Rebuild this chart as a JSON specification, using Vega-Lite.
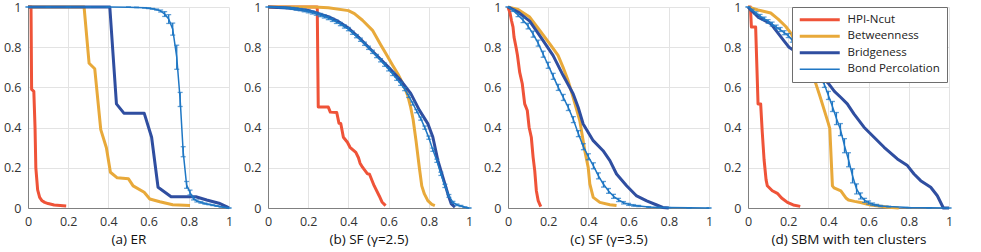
{
  "$schema": "https://vega.github.io/schema/vega-lite/v6.json",
  "background": "white",
  "padding": {"left": 3, "top": 1, "right": 5, "bottom": 3},
  "spacing": 10,
  "config": {
    "font": "Open Sans",
    "view": {"stroke": null},
    "axis": {
      "grid": true, "gridColor": "#e3e3e3", "gridWidth": 1,
      "domainColor": "#808080", "domainWidth": 1,
      "ticks": false, "labelFontSize": 12.5, "labelColor": "#333333",
      "labelFlush": false, "labelOverlap": false,
      "titleFontSize": 13.5, "titleFontWeight": "normal", "titleColor": "#111111", "titlePadding": 5
    },
    "axisX": {"labelPadding": 7},
    "axisY": {"labelPadding": 7},
    "line": {"strokeJoin": "round"}
  },
  "datasets": {
    "a": [
      {"s":"HPI-Ncut","x":0,"y":1},{"s":"HPI-Ncut","x":0.015,"y":1},{"s":"HPI-Ncut","x":0.018,"y":0.59},{"s":"HPI-Ncut","x":0.029,"y":0.58},{"s":"HPI-Ncut","x":0.035,"y":0.4},{"s":"HPI-Ncut","x":0.039,"y":0.2},{"s":"HPI-Ncut","x":0.048,"y":0.09},{"s":"HPI-Ncut","x":0.058,"y":0.053},{"s":"HPI-Ncut","x":0.07,"y":0.036},{"s":"HPI-Ncut","x":0.083,"y":0.028},{"s":"HPI-Ncut","x":0.1,"y":0.022},{"s":"HPI-Ncut","x":0.13,"y":0.015},{"s":"HPI-Ncut","x":0.19,"y":0.01},
      {"s":"Betweenness","x":0,"y":1},{"s":"Betweenness","x":0.279,"y":1},{"s":"Betweenness","x":0.304,"y":0.72},{"s":"Betweenness","x":0.332,"y":0.693},{"s":"Betweenness","x":0.362,"y":0.39},{"s":"Betweenness","x":0.39,"y":0.3},{"s":"Betweenness","x":0.41,"y":0.178},{"s":"Betweenness","x":0.444,"y":0.15},{"s":"Betweenness","x":0.5,"y":0.145},{"s":"Betweenness","x":0.523,"y":0.11},{"s":"Betweenness","x":0.578,"y":0.078},{"s":"Betweenness","x":0.606,"y":0.045},{"s":"Betweenness","x":0.656,"y":0.031},{"s":"Betweenness","x":0.72,"y":0.016},{"s":"Betweenness","x":0.806,"y":0.012},
      {"s":"Bridgeness","x":0,"y":1},{"s":"Bridgeness","x":0.407,"y":1},{"s":"Bridgeness","x":0.44,"y":0.518},{"s":"Bridgeness","x":0.477,"y":0.472},{"s":"Bridgeness","x":0.578,"y":0.472},{"s":"Bridgeness","x":0.615,"y":0.352},{"s":"Bridgeness","x":0.647,"y":0.103},{"s":"Bridgeness","x":0.712,"y":0.056},{"s":"Bridgeness","x":0.835,"y":0.056},{"s":"Bridgeness","x":0.889,"y":0.04},{"s":"Bridgeness","x":0.95,"y":0.024},{"s":"Bridgeness","x":0.99,"y":0.006},{"s":"Bridgeness","x":1,"y":0},
      {"s":"Bond Percolation","x":0,"y":1,"e":0},{"s":"Bond Percolation","x":0.1,"y":1,"e":0},{"s":"Bond Percolation","x":0.2,"y":1,"e":0},{"s":"Bond Percolation","x":0.3,"y":1,"e":0},{"s":"Bond Percolation","x":0.4,"y":1,"e":0},{"s":"Bond Percolation","x":0.5,"y":0.999,"e":0},{"s":"Bond Percolation","x":0.54,"y":0.998,"e":0.001},{"s":"Bond Percolation","x":0.58,"y":0.996,"e":0.001},{"s":"Bond Percolation","x":0.6,"y":0.994,"e":0.002},{"s":"Bond Percolation","x":0.62,"y":0.991,"e":0.002},{"s":"Bond Percolation","x":0.64,"y":0.987,"e":0.003},{"s":"Bond Percolation","x":0.66,"y":0.98,"e":0.005},{"s":"Bond Percolation","x":0.68,"y":0.965,"e":0.012},{"s":"Bond Percolation","x":0.7,"y":0.94,"e":0.022},{"s":"Bond Percolation","x":0.72,"y":0.89,"e":0.03},{"s":"Bond Percolation","x":0.74,"y":0.75,"e":0.06},{"s":"Bond Percolation","x":0.757,"y":0.54,"e":0.035},{"s":"Bond Percolation","x":0.772,"y":0.28,"e":0.025},{"s":"Bond Percolation","x":0.789,"y":0.115,"e":0.017},{"s":"Bond Percolation","x":0.806,"y":0.077,"e":0.012},{"s":"Bond Percolation","x":0.823,"y":0.048,"e":0.008},{"s":"Bond Percolation","x":0.84,"y":0.035,"e":0.005},{"s":"Bond Percolation","x":0.86,"y":0.028,"e":0.004},{"s":"Bond Percolation","x":0.88,"y":0.022,"e":0.003},{"s":"Bond Percolation","x":0.9,"y":0.018,"e":0.002},{"s":"Bond Percolation","x":0.92,"y":0.014,"e":0.002},{"s":"Bond Percolation","x":0.94,"y":0.01,"e":0.001},{"s":"Bond Percolation","x":0.96,"y":0.006,"e":0.001},{"s":"Bond Percolation","x":0.98,"y":0.003,"e":0},{"s":"Bond Percolation","x":1,"y":0,"e":0}
    ],
    "b": [
      {"s":"HPI-Ncut","x":0,"y":1},{"s":"HPI-Ncut","x":0.245,"y":1},{"s":"HPI-Ncut","x":0.25,"y":0.502},{"s":"HPI-Ncut","x":0.3,"y":0.502},{"s":"HPI-Ncut","x":0.31,"y":0.477},{"s":"HPI-Ncut","x":0.342,"y":0.475},{"s":"HPI-Ncut","x":0.353,"y":0.422},{"s":"HPI-Ncut","x":0.362,"y":0.42},{"s":"HPI-Ncut","x":0.375,"y":0.352},{"s":"HPI-Ncut","x":0.395,"y":0.327},{"s":"HPI-Ncut","x":0.408,"y":0.302},{"s":"HPI-Ncut","x":0.437,"y":0.277},{"s":"HPI-Ncut","x":0.45,"y":0.25},{"s":"HPI-Ncut","x":0.458,"y":0.223},{"s":"HPI-Ncut","x":0.47,"y":0.203},{"s":"HPI-Ncut","x":0.495,"y":0.17},{"s":"HPI-Ncut","x":0.505,"y":0.168},{"s":"HPI-Ncut","x":0.528,"y":0.111},{"s":"HPI-Ncut","x":0.553,"y":0.061},{"s":"HPI-Ncut","x":0.567,"y":0.03},{"s":"HPI-Ncut","x":0.585,"y":0.012},
      {"s":"Betweenness","x":0,"y":1},{"s":"Betweenness","x":0.228,"y":1},{"s":"Betweenness","x":0.3,"y":0.996},{"s":"Betweenness","x":0.4,"y":0.982},{"s":"Betweenness","x":0.43,"y":0.967},{"s":"Betweenness","x":0.47,"y":0.934},{"s":"Betweenness","x":0.52,"y":0.884},{"s":"Betweenness","x":0.562,"y":0.81},{"s":"Betweenness","x":0.587,"y":0.767},{"s":"Betweenness","x":0.62,"y":0.71},{"s":"Betweenness","x":0.65,"y":0.66},{"s":"Betweenness","x":0.675,"y":0.61},{"s":"Betweenness","x":0.695,"y":0.56},{"s":"Betweenness","x":0.71,"y":0.5},{"s":"Betweenness","x":0.722,"y":0.44},{"s":"Betweenness","x":0.737,"y":0.33},{"s":"Betweenness","x":0.753,"y":0.2},{"s":"Betweenness","x":0.765,"y":0.11},{"s":"Betweenness","x":0.778,"y":0.07},{"s":"Betweenness","x":0.795,"y":0.037},{"s":"Betweenness","x":0.815,"y":0.018},{"s":"Betweenness","x":0.83,"y":0.012},
      {"s":"Bridgeness","x":0,"y":1},{"s":"Bridgeness","x":0.1,"y":0.995},{"s":"Bridgeness","x":0.2,"y":0.983},{"s":"Bridgeness","x":0.3,"y":0.952},{"s":"Bridgeness","x":0.35,"y":0.928},{"s":"Bridgeness","x":0.4,"y":0.895},{"s":"Bridgeness","x":0.45,"y":0.85},{"s":"Bridgeness","x":0.5,"y":0.8},{"s":"Bridgeness","x":0.55,"y":0.75},{"s":"Bridgeness","x":0.6,"y":0.7},{"s":"Bridgeness","x":0.66,"y":0.635},{"s":"Bridgeness","x":0.71,"y":0.57},{"s":"Bridgeness","x":0.753,"y":0.487},{"s":"Bridgeness","x":0.795,"y":0.42},{"s":"Bridgeness","x":0.82,"y":0.353},{"s":"Bridgeness","x":0.845,"y":0.237},{"s":"Bridgeness","x":0.87,"y":0.153},{"s":"Bridgeness","x":0.895,"y":0.07},{"s":"Bridgeness","x":0.912,"y":0.02},{"s":"Bridgeness","x":0.93,"y":0.004},
      {"s":"Bond Percolation","x":0,"y":1,"e":0},{"s":"Bond Percolation","x":0.02,"y":1,"e":0},{"s":"Bond Percolation","x":0.04,"y":0.999,"e":0.001},{"s":"Bond Percolation","x":0.06,"y":0.998,"e":0.002},{"s":"Bond Percolation","x":0.08,"y":0.997,"e":0.003},{"s":"Bond Percolation","x":0.1,"y":0.995,"e":0.004},{"s":"Bond Percolation","x":0.12,"y":0.993,"e":0.005},{"s":"Bond Percolation","x":0.14,"y":0.99,"e":0.006},{"s":"Bond Percolation","x":0.16,"y":0.987,"e":0.006},{"s":"Bond Percolation","x":0.18,"y":0.983,"e":0.007},{"s":"Bond Percolation","x":0.2,"y":0.978,"e":0.007},{"s":"Bond Percolation","x":0.22,"y":0.973,"e":0.008},{"s":"Bond Percolation","x":0.24,"y":0.967,"e":0.008},{"s":"Bond Percolation","x":0.26,"y":0.96,"e":0.008},{"s":"Bond Percolation","x":0.28,"y":0.953,"e":0.008},{"s":"Bond Percolation","x":0.3,"y":0.945,"e":0.008},{"s":"Bond Percolation","x":0.32,"y":0.936,"e":0.008},{"s":"Bond Percolation","x":0.34,"y":0.926,"e":0.008},{"s":"Bond Percolation","x":0.36,"y":0.915,"e":0.008},{"s":"Bond Percolation","x":0.38,"y":0.903,"e":0.008},{"s":"Bond Percolation","x":0.4,"y":0.89,"e":0.008},{"s":"Bond Percolation","x":0.42,"y":0.872,"e":0.008},{"s":"Bond Percolation","x":0.44,"y":0.855,"e":0.008},{"s":"Bond Percolation","x":0.46,"y":0.837,"e":0.008},{"s":"Bond Percolation","x":0.48,"y":0.817,"e":0.008},{"s":"Bond Percolation","x":0.5,"y":0.797,"e":0.008},{"s":"Bond Percolation","x":0.52,"y":0.777,"e":0.008},{"s":"Bond Percolation","x":0.54,"y":0.756,"e":0.008},{"s":"Bond Percolation","x":0.56,"y":0.735,"e":0.008},{"s":"Bond Percolation","x":0.58,"y":0.713,"e":0.008},{"s":"Bond Percolation","x":0.6,"y":0.69,"e":0.008},{"s":"Bond Percolation","x":0.62,"y":0.667,"e":0.008},{"s":"Bond Percolation","x":0.64,"y":0.643,"e":0.008},{"s":"Bond Percolation","x":0.66,"y":0.618,"e":0.008},{"s":"Bond Percolation","x":0.68,"y":0.592,"e":0.008},{"s":"Bond Percolation","x":0.7,"y":0.558,"e":0.008},{"s":"Bond Percolation","x":0.72,"y":0.52,"e":0.008},{"s":"Bond Percolation","x":0.74,"y":0.482,"e":0.008},{"s":"Bond Percolation","x":0.76,"y":0.445,"e":0.008},{"s":"Bond Percolation","x":0.78,"y":0.4,"e":0.008},{"s":"Bond Percolation","x":0.8,"y":0.35,"e":0.008},{"s":"Bond Percolation","x":0.82,"y":0.29,"e":0.008},{"s":"Bond Percolation","x":0.84,"y":0.235,"e":0.008},{"s":"Bond Percolation","x":0.86,"y":0.17,"e":0.008},{"s":"Bond Percolation","x":0.88,"y":0.11,"e":0.008},{"s":"Bond Percolation","x":0.9,"y":0.06,"e":0.007},{"s":"Bond Percolation","x":0.92,"y":0.028,"e":0.005},{"s":"Bond Percolation","x":0.94,"y":0.016,"e":0.004},{"s":"Bond Percolation","x":0.96,"y":0.01,"e":0.003},{"s":"Bond Percolation","x":0.98,"y":0.004,"e":0.002},{"s":"Bond Percolation","x":1,"y":0,"e":0}
    ],
    "c": [
      {"s":"HPI-Ncut","x":0,"y":1},{"s":"HPI-Ncut","x":0.01,"y":0.97},{"s":"HPI-Ncut","x":0.017,"y":0.934},{"s":"HPI-Ncut","x":0.025,"y":0.9},{"s":"HPI-Ncut","x":0.03,"y":0.85},{"s":"HPI-Ncut","x":0.04,"y":0.8},{"s":"HPI-Ncut","x":0.047,"y":0.76},{"s":"HPI-Ncut","x":0.058,"y":0.676},{"s":"HPI-Ncut","x":0.071,"y":0.618},{"s":"HPI-Ncut","x":0.083,"y":0.518},{"s":"HPI-Ncut","x":0.096,"y":0.485},{"s":"HPI-Ncut","x":0.105,"y":0.402},{"s":"HPI-Ncut","x":0.116,"y":0.352},{"s":"HPI-Ncut","x":0.125,"y":0.252},{"s":"HPI-Ncut","x":0.133,"y":0.186},{"s":"HPI-Ncut","x":0.141,"y":0.086},{"s":"HPI-Ncut","x":0.15,"y":0.037},{"s":"HPI-Ncut","x":0.163,"y":0.007},
      {"s":"Betweenness","x":0,"y":1},{"s":"Betweenness","x":0.05,"y":0.988},{"s":"Betweenness","x":0.108,"y":0.95},{"s":"Betweenness","x":0.158,"y":0.883},{"s":"Betweenness","x":0.208,"y":0.817},{"s":"Betweenness","x":0.249,"y":0.759},{"s":"Betweenness","x":0.274,"y":0.7},{"s":"Betweenness","x":0.299,"y":0.634},{"s":"Betweenness","x":0.324,"y":0.551},{"s":"Betweenness","x":0.357,"y":0.435},{"s":"Betweenness","x":0.382,"y":0.285},{"s":"Betweenness","x":0.399,"y":0.202},{"s":"Betweenness","x":0.407,"y":0.12},{"s":"Betweenness","x":0.424,"y":0.053},{"s":"Betweenness","x":0.457,"y":0.028},{"s":"Betweenness","x":0.507,"y":0.016},{"s":"Betweenness","x":0.54,"y":0.012},
      {"s":"Bridgeness","x":0,"y":1},{"s":"Bridgeness","x":0.05,"y":0.975},{"s":"Bridgeness","x":0.108,"y":0.93},{"s":"Bridgeness","x":0.174,"y":0.834},{"s":"Bridgeness","x":0.224,"y":0.759},{"s":"Bridgeness","x":0.274,"y":0.66},{"s":"Bridgeness","x":0.324,"y":0.568},{"s":"Bridgeness","x":0.349,"y":0.501},{"s":"Bridgeness","x":0.374,"y":0.418},{"s":"Bridgeness","x":0.424,"y":0.335},{"s":"Bridgeness","x":0.473,"y":0.285},{"s":"Bridgeness","x":0.507,"y":0.236},{"s":"Bridgeness","x":0.54,"y":0.169},{"s":"Bridgeness","x":0.59,"y":0.111},{"s":"Bridgeness","x":0.64,"y":0.06},{"s":"Bridgeness","x":0.69,"y":0.035},{"s":"Bridgeness","x":0.74,"y":0.015},{"s":"Bridgeness","x":0.77,"y":0.003},{"s":"Bridgeness","x":0.8,"y":0},
      {"s":"Bond Percolation","x":0,"y":1,"e":0},{"s":"Bond Percolation","x":0.025,"y":0.983,"e":0.005},{"s":"Bond Percolation","x":0.05,"y":0.96,"e":0.008},{"s":"Bond Percolation","x":0.075,"y":0.934,"e":0.012},{"s":"Bond Percolation","x":0.1,"y":0.905,"e":0.014},{"s":"Bond Percolation","x":0.125,"y":0.865,"e":0.015},{"s":"Bond Percolation","x":0.15,"y":0.82,"e":0.015},{"s":"Bond Percolation","x":0.175,"y":0.765,"e":0.015},{"s":"Bond Percolation","x":0.2,"y":0.71,"e":0.015},{"s":"Bond Percolation","x":0.225,"y":0.655,"e":0.015},{"s":"Bond Percolation","x":0.25,"y":0.6,"e":0.015},{"s":"Bond Percolation","x":0.275,"y":0.55,"e":0.015},{"s":"Bond Percolation","x":0.3,"y":0.5,"e":0.015},{"s":"Bond Percolation","x":0.325,"y":0.44,"e":0.015},{"s":"Bond Percolation","x":0.35,"y":0.37,"e":0.015},{"s":"Bond Percolation","x":0.375,"y":0.305,"e":0.015},{"s":"Bond Percolation","x":0.4,"y":0.255,"e":0.015},{"s":"Bond Percolation","x":0.425,"y":0.21,"e":0.015},{"s":"Bond Percolation","x":0.45,"y":0.16,"e":0.015},{"s":"Bond Percolation","x":0.475,"y":0.118,"e":0.014},{"s":"Bond Percolation","x":0.5,"y":0.085,"e":0.012},{"s":"Bond Percolation","x":0.525,"y":0.058,"e":0.01},{"s":"Bond Percolation","x":0.55,"y":0.04,"e":0.008},{"s":"Bond Percolation","x":0.575,"y":0.026,"e":0.006},{"s":"Bond Percolation","x":0.6,"y":0.018,"e":0.005},{"s":"Bond Percolation","x":0.625,"y":0.013,"e":0.004},{"s":"Bond Percolation","x":0.65,"y":0.01,"e":0.003},{"s":"Bond Percolation","x":0.7,"y":0.005,"e":0.002},{"s":"Bond Percolation","x":0.75,"y":0.003,"e":0.001},{"s":"Bond Percolation","x":0.8,"y":0.002,"e":0},{"s":"Bond Percolation","x":0.9,"y":0.001,"e":0},{"s":"Bond Percolation","x":1,"y":0,"e":0}
    ],
    "d": [
      {"s":"HPI-Ncut","x":0,"y":1},{"s":"HPI-Ncut","x":0.012,"y":1},{"s":"HPI-Ncut","x":0.017,"y":0.9},{"s":"HPI-Ncut","x":0.038,"y":0.9},{"s":"HPI-Ncut","x":0.05,"y":0.518},{"s":"HPI-Ncut","x":0.063,"y":0.518},{"s":"HPI-Ncut","x":0.071,"y":0.377},{"s":"HPI-Ncut","x":0.08,"y":0.24},{"s":"HPI-Ncut","x":0.09,"y":0.14},{"s":"HPI-Ncut","x":0.096,"y":0.111},{"s":"HPI-Ncut","x":0.121,"y":0.086},{"s":"HPI-Ncut","x":0.146,"y":0.073},{"s":"HPI-Ncut","x":0.167,"y":0.05},{"s":"HPI-Ncut","x":0.196,"y":0.028},{"s":"HPI-Ncut","x":0.225,"y":0.015},{"s":"HPI-Ncut","x":0.26,"y":0.008},
      {"s":"Betweenness","x":0,"y":1},{"s":"Betweenness","x":0.05,"y":0.985},{"s":"Betweenness","x":0.113,"y":0.97},{"s":"Betweenness","x":0.15,"y":0.94},{"s":"Betweenness","x":0.188,"y":0.903},{"s":"Betweenness","x":0.213,"y":0.87},{"s":"Betweenness","x":0.25,"y":0.8},{"s":"Betweenness","x":0.3,"y":0.7},{"s":"Betweenness","x":0.337,"y":0.62},{"s":"Betweenness","x":0.36,"y":0.55},{"s":"Betweenness","x":0.379,"y":0.488},{"s":"Betweenness","x":0.4,"y":0.42},{"s":"Betweenness","x":0.407,"y":0.395},{"s":"Betweenness","x":0.42,"y":0.11},{"s":"Betweenness","x":0.428,"y":0.1},{"s":"Betweenness","x":0.462,"y":0.085},{"s":"Betweenness","x":0.487,"y":0.05},{"s":"Betweenness","x":0.5,"y":0.04},{"s":"Betweenness","x":0.53,"y":0.033},{"s":"Betweenness","x":0.56,"y":0.027},{"s":"Betweenness","x":0.61,"y":0.015},{"s":"Betweenness","x":0.7,"y":0.004},{"s":"Betweenness","x":0.75,"y":0},
      {"s":"Bridgeness","x":0,"y":1},{"s":"Bridgeness","x":0.05,"y":0.95},{"s":"Bridgeness","x":0.113,"y":0.917},{"s":"Bridgeness","x":0.18,"y":0.83},{"s":"Bridgeness","x":0.204,"y":0.8},{"s":"Bridgeness","x":0.25,"y":0.77},{"s":"Bridgeness","x":0.3,"y":0.72},{"s":"Bridgeness","x":0.35,"y":0.67},{"s":"Bridgeness","x":0.4,"y":0.62},{"s":"Bridgeness","x":0.43,"y":0.58},{"s":"Bridgeness","x":0.461,"y":0.551},{"s":"Bridgeness","x":0.494,"y":0.518},{"s":"Bridgeness","x":0.527,"y":0.468},{"s":"Bridgeness","x":0.577,"y":0.402},{"s":"Bridgeness","x":0.627,"y":0.352},{"s":"Bridgeness","x":0.677,"y":0.302},{"s":"Bridgeness","x":0.743,"y":0.244},{"s":"Bridgeness","x":0.793,"y":0.211},{"s":"Bridgeness","x":0.826,"y":0.169},{"s":"Bridgeness","x":0.859,"y":0.136},{"s":"Bridgeness","x":0.909,"y":0.103},{"s":"Bridgeness","x":0.942,"y":0.061},{"s":"Bridgeness","x":0.972,"y":0},{"s":"Bridgeness","x":1,"y":0},
      {"s":"Bond Percolation","x":0,"y":1,"e":0},{"s":"Bond Percolation","x":0.02,"y":0.985,"e":0.004},{"s":"Bond Percolation","x":0.04,"y":0.97,"e":0.006},{"s":"Bond Percolation","x":0.06,"y":0.955,"e":0.008},{"s":"Bond Percolation","x":0.08,"y":0.942,"e":0.008},{"s":"Bond Percolation","x":0.1,"y":0.928,"e":0.009},{"s":"Bond Percolation","x":0.12,"y":0.915,"e":0.01},{"s":"Bond Percolation","x":0.14,"y":0.9,"e":0.01},{"s":"Bond Percolation","x":0.16,"y":0.888,"e":0.01},{"s":"Bond Percolation","x":0.18,"y":0.872,"e":0.01},{"s":"Bond Percolation","x":0.2,"y":0.858,"e":0.01},{"s":"Bond Percolation","x":0.22,"y":0.835,"e":0.01},{"s":"Bond Percolation","x":0.24,"y":0.81,"e":0.01},{"s":"Bond Percolation","x":0.26,"y":0.785,"e":0.01},{"s":"Bond Percolation","x":0.28,"y":0.755,"e":0.01},{"s":"Bond Percolation","x":0.3,"y":0.725,"e":0.01},{"s":"Bond Percolation","x":0.32,"y":0.7,"e":0.01},{"s":"Bond Percolation","x":0.34,"y":0.67,"e":0.012},{"s":"Bond Percolation","x":0.36,"y":0.64,"e":0.012},{"s":"Bond Percolation","x":0.38,"y":0.615,"e":0.015},{"s":"Bond Percolation","x":0.4,"y":0.56,"e":0.02},{"s":"Bond Percolation","x":0.42,"y":0.505,"e":0.025},{"s":"Bond Percolation","x":0.44,"y":0.445,"e":0.03},{"s":"Bond Percolation","x":0.46,"y":0.39,"e":0.03},{"s":"Bond Percolation","x":0.48,"y":0.31,"e":0.035},{"s":"Bond Percolation","x":0.5,"y":0.24,"e":0.035},{"s":"Bond Percolation","x":0.52,"y":0.16,"e":0.035},{"s":"Bond Percolation","x":0.54,"y":0.095,"e":0.025},{"s":"Bond Percolation","x":0.56,"y":0.06,"e":0.015},{"s":"Bond Percolation","x":0.58,"y":0.038,"e":0.01},{"s":"Bond Percolation","x":0.6,"y":0.027,"e":0.008},{"s":"Bond Percolation","x":0.62,"y":0.019,"e":0.006},{"s":"Bond Percolation","x":0.64,"y":0.014,"e":0.004},{"s":"Bond Percolation","x":0.66,"y":0.01,"e":0.003},{"s":"Bond Percolation","x":0.7,"y":0.007,"e":0.002},{"s":"Bond Percolation","x":0.8,"y":0.002,"e":0},{"s":"Bond Percolation","x":0.9,"y":0.001,"e":0},{"s":"Bond Percolation","x":1,"y":0,"e":0}
    ]
  },
  "resolve": {"legend": {"color": "independent"}},
  "hconcat": [
    {
      "width": 201, "height": 201,
      "data": {"name": "a"},
      "encoding": {
        "x": {"field": "x", "type": "quantitative", "scale": {"domain": [0, 1], "nice": false}, "axis": {"values": [0, 0.2, 0.4, 0.6, 0.8, 1], "format": "~g", "title": "(a) ER"}},
        "color": {"field": "s", "type": "nominal", "scale": {"domain": ["HPI-Ncut", "Betweenness", "Bridgeness", "Bond Percolation"], "range": ["#EF5338", "#E8A93A", "#2F4EA0", "#1F77C4"]}, "legend": null}
      },
      "layer": [
        {"transform": [{"filter": "datum.s !== 'Bond Percolation'"}], "mark": {"type": "line", "strokeWidth": 3}, "encoding": {"y": {"field": "y", "type": "quantitative", "scale": {"domain": [0, 1], "nice": false}, "axis": {"values": [0, 0.2, 0.4, 0.6, 0.8, 1], "format": "~g", "title": null}}}},
        {"transform": [{"filter": "datum.s === 'Bond Percolation'"}], "mark": {"type": "errorbar", "ticks": {"size": 5}, "thickness": 1.3}, "encoding": {"y": {"field": "y", "type": "quantitative"}, "yError": {"field": "e"}}},
        {"transform": [{"filter": "datum.s === 'Bond Percolation'"}], "mark": {"type": "line", "strokeWidth": 1.5}, "encoding": {"y": {"field": "y", "type": "quantitative"}}}
      ]
    },
    {
      "width": 201, "height": 201,
      "data": {"name": "b"},
      "encoding": {
        "x": {"field": "x", "type": "quantitative", "scale": {"domain": [0, 1], "nice": false}, "axis": {"values": [0, 0.2, 0.4, 0.6, 0.8, 1], "format": "~g", "title": "(b) SF (γ=2.5)"}},
        "color": {"field": "s", "type": "nominal", "scale": {"domain": ["HPI-Ncut", "Betweenness", "Bridgeness", "Bond Percolation"], "range": ["#EF5338", "#E8A93A", "#2F4EA0", "#1F77C4"]}, "legend": null}
      },
      "layer": [
        {"transform": [{"filter": "datum.s !== 'Bond Percolation'"}], "mark": {"type": "line", "strokeWidth": 3}, "encoding": {"y": {"field": "y", "type": "quantitative", "scale": {"domain": [0, 1], "nice": false}, "axis": {"values": [0, 0.2, 0.4, 0.6, 0.8, 1], "format": "~g", "title": null}}}},
        {"transform": [{"filter": "datum.s === 'Bond Percolation'"}], "mark": {"type": "errorbar", "ticks": {"size": 5}, "thickness": 1.3}, "encoding": {"y": {"field": "y", "type": "quantitative"}, "yError": {"field": "e"}}},
        {"transform": [{"filter": "datum.s === 'Bond Percolation'"}], "mark": {"type": "line", "strokeWidth": 1.5}, "encoding": {"y": {"field": "y", "type": "quantitative"}}}
      ]
    },
    {
      "width": 201, "height": 201,
      "data": {"name": "c"},
      "encoding": {
        "x": {"field": "x", "type": "quantitative", "scale": {"domain": [0, 1], "nice": false}, "axis": {"values": [0, 0.2, 0.4, 0.6, 0.8, 1], "format": "~g", "title": "(c) SF (γ=3.5)"}},
        "color": {"field": "s", "type": "nominal", "scale": {"domain": ["HPI-Ncut", "Betweenness", "Bridgeness", "Bond Percolation"], "range": ["#EF5338", "#E8A93A", "#2F4EA0", "#1F77C4"]}, "legend": null}
      },
      "layer": [
        {"transform": [{"filter": "datum.s !== 'Bond Percolation'"}], "mark": {"type": "line", "strokeWidth": 3}, "encoding": {"y": {"field": "y", "type": "quantitative", "scale": {"domain": [0, 1], "nice": false}, "axis": {"values": [0, 0.2, 0.4, 0.6, 0.8, 1], "format": "~g", "title": null}}}},
        {"transform": [{"filter": "datum.s === 'Bond Percolation'"}], "mark": {"type": "errorbar", "ticks": {"size": 5}, "thickness": 1.3}, "encoding": {"y": {"field": "y", "type": "quantitative"}, "yError": {"field": "e"}}},
        {"transform": [{"filter": "datum.s === 'Bond Percolation'"}], "mark": {"type": "line", "strokeWidth": 1.5}, "encoding": {"y": {"field": "y", "type": "quantitative"}}}
      ]
    },
    {
      "width": 201, "height": 201,
      "data": {"name": "d"},
      "encoding": {
        "x": {"field": "x", "type": "quantitative", "scale": {"domain": [0, 1], "nice": false}, "axis": {"values": [0, 0.2, 0.4, 0.6, 0.8, 1], "format": "~g", "title": "(d) SBM with ten clusters"}},
        "color": {"field": "s", "type": "nominal", "scale": {"domain": ["HPI-Ncut", "Betweenness", "Bridgeness", "Bond Percolation"], "range": ["#EF5338", "#E8A93A", "#2F4EA0", "#1F77C4"]},
          "legend": {"orient": "none", "legendX": 44, "legendY": 0, "title": null, "fillColor": "white", "strokeColor": "#6e6e6e", "padding": 7, "rowPadding": 3.5,
            "symbolType": "M-1,0H7", "symbolSize": 100, "symbolStrokeWidth": 3, "labelOffset": 37, "labelFontSize": 11.5, "labelColor": "#222222", "labelFont": "Open Sans",
            "encode": {"symbols": {"update": {"strokeWidth": {"signal": "datum.value === 'Bond Percolation' ? 1.5 : 3"}}}}}}
      },
      "layer": [
        {"transform": [{"filter": "datum.s !== 'Bond Percolation'"}], "mark": {"type": "line", "strokeWidth": 3}, "encoding": {"y": {"field": "y", "type": "quantitative", "scale": {"domain": [0, 1], "nice": false}, "axis": {"values": [0, 0.2, 0.4, 0.6, 0.8, 1], "format": "~g", "title": null}}}},
        {"transform": [{"filter": "datum.s === 'Bond Percolation'"}], "mark": {"type": "errorbar", "ticks": {"size": 5}, "thickness": 1.3}, "encoding": {"y": {"field": "y", "type": "quantitative"}, "yError": {"field": "e"}}},
        {"transform": [{"filter": "datum.s === 'Bond Percolation'"}], "mark": {"type": "line", "strokeWidth": 1.5}, "encoding": {"y": {"field": "y", "type": "quantitative"}}}
      ]
    }
  ]
}
